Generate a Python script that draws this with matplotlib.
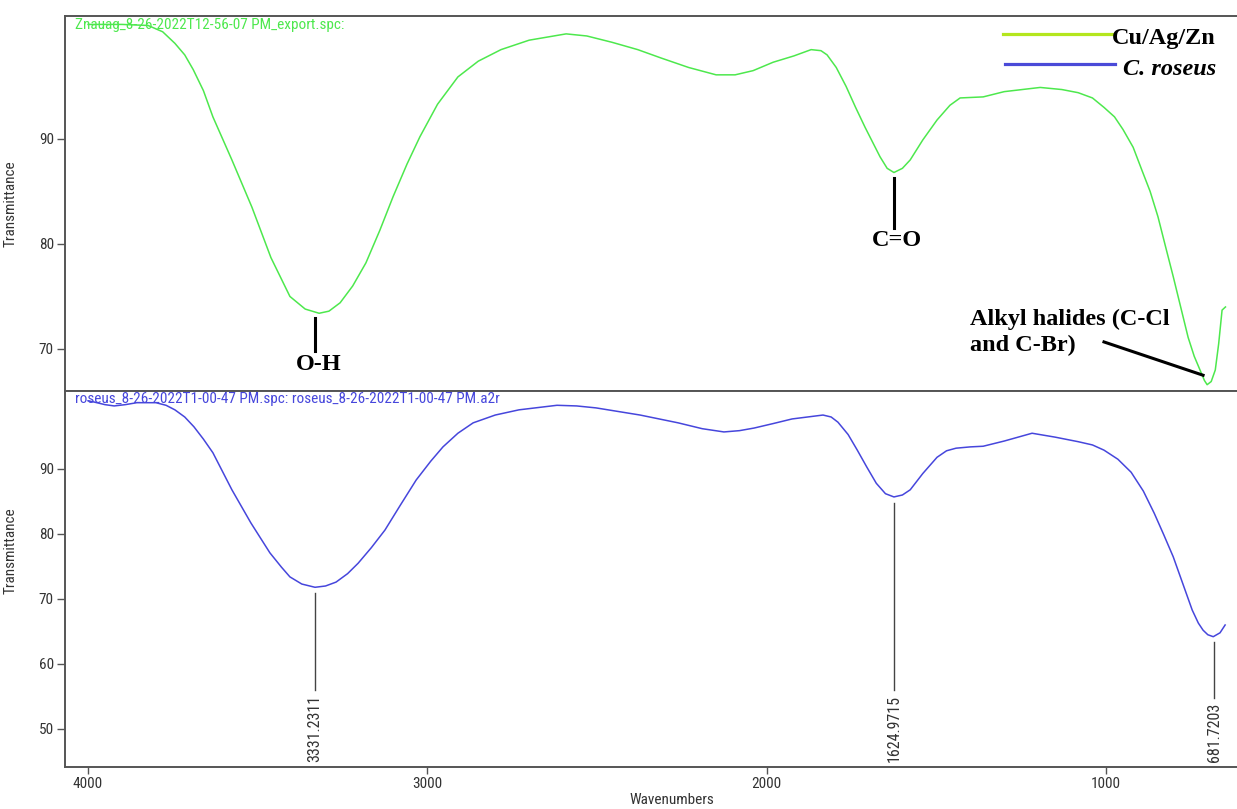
import numpy as np
import matplotlib.pyplot as plt
from matplotlib import font_manager

# wavenumber / transmittance
wn_top = [4000, 3900, 3823, 3780, 3744, 3715, 3690, 3660, 3632, 3576, 3517, 3461, 3405, 3360, 3319,
          3290, 3257, 3220, 3181, 3140, 3101, 3060, 3022, 2970, 2910, 2850, 2783, 2700, 2591,
          2530, 2456, 2380, 2311, 2230, 2149, 2093, 2040, 1981, 1920, 1869, 1840, 1822, 1795,
          1766, 1738, 1710, 1666, 1645, 1625, 1600, 1577, 1540, 1498, 1460, 1430, 1362, 1300,
          1194, 1130, 1082, 1040, 1006, 975, 950, 920, 894, 870, 847, 825, 802, 780, 758, 740,
          723, 710, 702, 690, 678, 668, 658, 648]
tr_top = [100.9, 100.9, 100.8, 100.2, 99.1, 98.0, 96.6, 94.6, 92.1, 88.0, 83.5, 78.7, 75.0, 73.8, 73.4,
          73.6, 74.4, 76.0, 78.2, 81.3, 84.5, 87.6, 90.2, 93.3, 95.9, 97.4, 98.5, 99.4, 100.0,
          99.8, 99.2, 98.5, 97.7, 96.8, 96.1, 96.1, 96.5, 97.3, 97.9, 98.5, 98.4, 98.0, 96.8,
          95.0, 93.0, 91.1, 88.3, 87.2, 86.8, 87.2, 88.0, 89.9, 91.8, 93.2, 93.9, 94.0, 94.5,
          94.9, 94.7, 94.4, 93.9, 93.0, 92.1, 90.9, 89.2, 87.0, 85.0, 82.6, 79.8, 76.9, 74.0, 71.1, 69.3,
          68.0, 67.0, 66.6, 66.9, 68.0, 70.5, 73.7, 74.0]

wn_bot = [4000, 3982, 3950, 3923, 3890, 3856, 3800, 3770, 3744, 3715, 3688, 3660, 3632, 3576,
          3520, 3464, 3430, 3405, 3370, 3331, 3300, 3269, 3235, 3204, 3165, 3125, 3080, 3033,
          2990, 2954, 2910, 2865, 2800, 2730, 2618, 2560, 2503, 2373, 2261, 2190, 2126, 2080,
          2037, 1980, 1925, 1834, 1810, 1790, 1760, 1733, 1705, 1677, 1650, 1625, 1600, 1577,
          1540, 1498, 1470, 1442, 1400, 1362, 1300, 1218, 1150, 1082, 1040, 1006, 965, 926,
          890, 858, 830, 802, 774, 746, 728, 714, 700, 684, 664, 649]
tr_bot = [100.5, 100.3, 99.9, 99.7, 99.9, 100.2, 100.2, 99.8, 99.1, 98.0, 96.5, 94.6, 92.5, 86.8,
          81.7, 77.1, 74.9, 73.4, 72.3, 71.8, 72.0, 72.6, 73.9, 75.5, 77.9, 80.6, 84.4, 88.3,
          91.2, 93.4, 95.5, 97.1, 98.3, 99.1, 99.8, 99.7, 99.4, 98.3, 97.1, 96.2, 95.7, 95.9,
          96.3, 97.0, 97.7, 98.3, 98.0, 97.2, 95.3, 92.9, 90.3, 87.8, 86.2, 85.7, 86.0, 86.8,
          89.3, 91.8, 92.8, 93.2, 93.4, 93.5, 94.3, 95.5, 94.9, 94.2, 93.7, 92.9, 91.5, 89.5,
          86.6, 83.2, 79.9, 76.5, 72.4, 68.3, 66.3, 65.2, 64.5, 64.2, 64.8, 66.0]

peaks = [3331.2311, 1624.9715, 681.7203]
peak_labels = ["3331.2311", "1624.9715", "681.7203"]
groups = ["O-H", "C=O"]
group_pos = [3331, 1625]
x_ticks = [4000, 3000, 2000, 1000]
y_ticks_top = [70, 80, 90]
y_ticks_bot = [50, 60, 70, 80, 90]

green = '#4de84d'
blue = '#4646dc'
gray = '#333333'
serif = ['Liberation Serif', 'DejaVu Serif']

# pick a narrow sans face if one is there
fonts = font_manager.fontManager.ttflist
names = {f.name for f in fonts}
stretch = 'normal'
narrow_name = None
for cand in ['Liberation Sans Narrow', 'Arial Narrow', 'Roboto Condensed', 'Open Sans Condensed',
             'DejaVu Sans Condensed', 'Noto Sans Condensed']:
    if cand in names:
        narrow_name = cand
        break
if narrow_name is None:
    cond = [f for f in fonts if f.name in ('DejaVu Sans', 'Noto Sans', 'Open Sans')
            and str(f.stretch) in ('condensed', 'semi-condensed', '500', '400', 'extra-condensed')
            and f.style == 'normal']
    if cond:
        narrow_name = cond[0].name
        stretch = cond[0].stretch
    else:
        narrow_name = 'Roboto'
narrow = [narrow_name, 'DejaVu Sans']
nf = dict(family=narrow, stretch=stretch)

fig = plt.figure(figsize=(12.37, 8.09), dpi=100)
ax1 = fig.add_axes([0.0525, 0.5167, 0.9475, 0.4635])
ax2 = fig.add_axes([0.0525, 0.0519, 0.9475, 0.4648])

for ax in (ax1, ax2):
    ax.set_xlim(4068, 614)
    for s in ('left', 'bottom', 'top'):
        ax.spines[s].set_color('#555555')
        ax.spines[s].set_linewidth(1.4)
    ax.spines['right'].set_visible(False)
    ax.tick_params(axis='y', direction='out', length=6, width=1, color='#555555',
                   labelsize=11, labelcolor=gray, pad=2)
    ax.set_ylabel('Transmittance', fontsize=11, color=gray, **nf)

ax1.yaxis.set_label_coords(-0.040, 0.5)
ax2.yaxis.set_label_coords(-0.040, 0.575)

ax1.plot(wn_top, tr_top, color=green, lw=1.1)
ax1.set_ylim(66.0, 101.7)
ax1.set_yticks(y_ticks_top)
ax1.set_xticks([])
ax1.text(0.0085, 0.995, 'Znauag_8-26-2022T12-56-07 PM_export.spc:', transform=ax1.transAxes,
         color=green, fontsize=11, va='top', ha='left', **nf)

ax2.plot(wn_bot, tr_bot, color=blue, lw=1.1)
ax2.set_ylim(44.15, 102)
ax2.set_yticks(y_ticks_bot)
ax2.set_xticks(x_ticks)
ax2.tick_params(axis='x', direction='out', length=5, width=1, color='#555555',
                labelsize=11, labelcolor=gray, pad=2)
for ax in (ax1, ax2):
    for lab in ax.get_xticklabels() + ax.get_yticklabels():
        lab.set_family(narrow)
        lab.set_stretch(stretch)
fig.text(0.543, 0.011, 'Wavenumbers', ha='center', va='center', fontsize=11, color=gray, **nf)
ax2.text(0.0085, 0.997, 'roseus_8-26-2022T1-00-47 PM.spc: roseus_8-26-2022T1-00-47 PM.a2r',
         transform=ax2.transAxes, color=blue, fontsize=11, va='top', ha='left', **nf)

# peak markers on the lower panel
for p, lab in zip(peaks, peak_labels):
    t = np.interp(p, wn_bot[::-1], tr_bot[::-1])
    base = 56.0 if p > 1000 else 54.8
    ax2.plot([p, p], [base, t - 0.9], color='#444444', lw=1.0)
    ax2.text(p, 44.9, lab, rotation=90, ha='center', va='bottom', fontsize=11.5,
             color=gray, **nf)

# group annotations on the upper panel
line_len = [3.2, 4.7]
for g, p, ln in zip(groups, group_pos, line_len):
    t = np.interp(p, wn_top[::-1], tr_top[::-1])
    ax1.plot([p, p], [t - 0.55, t - 0.55 - ln], color='black', lw=2.2)
    ax1.text(p - 10, t - 1.8 - ln, g, ha='center', va='center', fontsize=17.5,
             fontweight='bold', family=serif)

ax1.plot([1006, 714], [70.67, 67.5], color='black', lw=2.2)
ax1.text(1400, 71.57, 'Alkyl halides (C-Cl\nand C-Br)', ha='left', va='center',
         fontsize=17.5, fontweight='bold', family=serif, linespacing=1.25)

# legend drawn by hand
ax1.plot([0.800, 0.895], [0.952, 0.952], transform=ax1.transAxes, color='#b4e61d', lw=2.3)
ax1.plot([0.802, 0.896], [0.872, 0.872], transform=ax1.transAxes, color='#4a4ad8', lw=2.3)
ax1.text(0.982, 0.941, 'Cu/Ag/Zn', transform=ax1.transAxes, ha='right', va='center',
         fontsize=17.5, fontweight='bold', family=serif)
ax1.text(0.982, 0.858, 'C. roseus', transform=ax1.transAxes, ha='right', va='center',
         fontsize=17.5, fontweight='bold', fontstyle='italic', family=serif)

fig.savefig('out.png', dpi=100)
